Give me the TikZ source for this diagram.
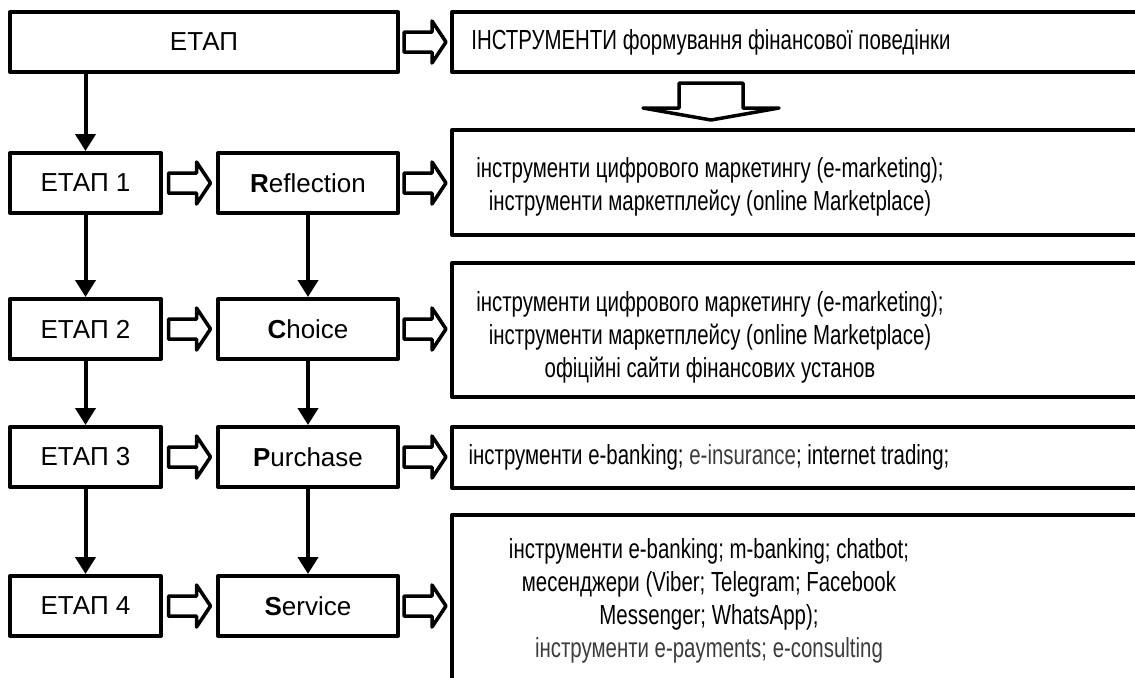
\documentclass[tikz,border=0pt]{standalone}
\usepackage{fontspec}
\setmainfont{Liberation Sans}
\usepackage{tikz}
\usetikzlibrary{calc}
\usetikzlibrary{arrows.meta}
\definecolor{greytext}{HTML}{3C3C3C}
\newcommand{\nl}[1]{\scalebox{0.74}[1]{#1}}
\tikzset{every node/.style={font=\fontsize{13}{16}\selectfont}}
\tikzset{hollow/.pic={\draw[line width=1.75pt, line join=round]
  (-21,-10) -- (7,-10) -- (7,-21) -- (21,0) -- (7,21) -- (7,10) -- (-21,10) -- cycle;}}
\tikzset{hollowdown/.pic={\draw[line width=1.75pt, line join=round]
  (-32,-18) -- (32,-18) -- (32,7) -- (68,7) -- (0,19) -- (-68,7) -- (-32,7) -- cycle;}}

\begin{document}
\begin{tikzpicture}[x=0.5pt, y=-0.5pt, line width=2pt,
  stagebox/.style={draw, line join=round, minimum height=30pt, inner sep=0pt},
  toolbox/.style={draw, line join=round, inner sep=0pt},
  tooltext/.style={align=center, font=\fontsize{13.8}{16.5}\selectfont},
  down/.style={-{Triangle[width=10pt,length=8.5pt]}}]
  \useasboundingbox (0,0) rectangle (1135,677);
  \clip (0,0) rectangle (1135,677);

  \node[stagebox, minimum width=194pt] at (204, 42) (etap) {ЕТАП};
  \node[toolbox, minimum width=354pt, minimum height=30pt] at (806, 42) (tools) {};
  \node[tooltext] at (711, 42) (toolstxt)
    {\nl{ІНСТРУМЕНТИ формування фінансової поведінки}};

  \node[stagebox, minimum width=75.5pt] at (85.5, 183) (e1) {ЕТАП 1};
  \node[stagebox, minimum width=75.5pt] at (85.5, 329) (e2) {ЕТАП 2};
  \node[stagebox, minimum width=75.5pt] at (85.5, 457) (e3) {ЕТАП 3};
  \node[stagebox, minimum width=75.5pt] at (85.5, 606) (e4) {ЕТАП 4};

  \node[stagebox, minimum width=90pt] at (308, 183) (s1) {\textbf{R}eflection};
  \node[stagebox, minimum width=90pt] at (308, 329) (s2) {\textbf{C}hoice};
  \node[stagebox, minimum width=90pt] at (308, 457) (s3) {\textbf{P}urchase};
  \node[stagebox, minimum width=90pt] at (308, 606) (s4) {\textbf{S}ervice};

  \node[toolbox, minimum width=354pt, minimum height=52.5pt] at (806, 182.5) (r1) {};
  \node[toolbox, minimum width=354pt, minimum height=67pt] at (806, 330) (r2) {};
  \node[toolbox, minimum width=354pt, minimum height=30.5pt] at (806, 457.5) (r3) {};
  \node[toolbox, minimum width=354pt, minimum height=92.5pt] at (806, 607.5) (r4) {};

  \node[tooltext] at (710, 187) (r1txt) {\nl{інструменти цифрового маркетингу (e-marketing);}\\
    \nl{інструменти маркетплейсу (online Marketplace)}};
  \node[tooltext] at (710, 337) (r2txt) {\nl{інструменти цифрового маркетингу (e-marketing);}\\
    \nl{інструменти маркетплейсу (online Marketplace)}\\
    \nl{офіційні сайти фінансових установ}};
  \node[tooltext] at (709, 457) (r3txt)
    {\nl{інструменти e-banking; \textcolor{greytext}{e-insurance}; internet trading;}};
  \node[tooltext] at (709, 601) (r4txt) {\nl{інструменти e-banking; m-banking; chatbot;}\\
    \nl{месенджери (Viber; Telegram; Facebook}\\
    \nl{Messenger; WhatsApp);}\\
    \nl{\textcolor{greytext}{інструменти e-payments; e-consulting}}};

  % stage arrows
  \draw[down] (e1 |- etap.south) -- (e1);
  \draw[down] (e1) -- (e2);
  \draw[down] (e2) -- (e3);
  \draw[down] (e3) -- (e4);
  \draw[down] (s1) -- (s2);
  \draw[down] (s2) -- (s3);
  \draw[down] (s3) -- (s4);

  % hollow arrows
  \pic at ($(etap.east)!0.5!(tools.west)$) {hollow};
  \pic at ($(e1.east)!0.5!(s1.west)$) {hollow};
  \pic at ($(e2.east)!0.5!(s2.west)$) {hollow};
  \pic at ($(e3.east)!0.5!(s3.west)$) {hollow};
  \pic at ($(e4.east)!0.5!(s4.west)$) {hollow};
  \pic at ($(s1.east)!0.5!(s1.east -| r1.west)$) {hollow};
  \pic at ($(s2.east)!0.5!(s2.east -| r2.west)$) {hollow};
  \pic at ($(s3.east)!0.5!(s3.east -| r3.west)$) {hollow};
  \pic at ($(s4.east)!0.5!(s4.east -| r4.west)$) {hollow};
  \pic at ($(tools.south -| toolstxt)!0.5!(r1.north -| toolstxt)$) {hollowdown};
\end{tikzpicture}
\end{document}
